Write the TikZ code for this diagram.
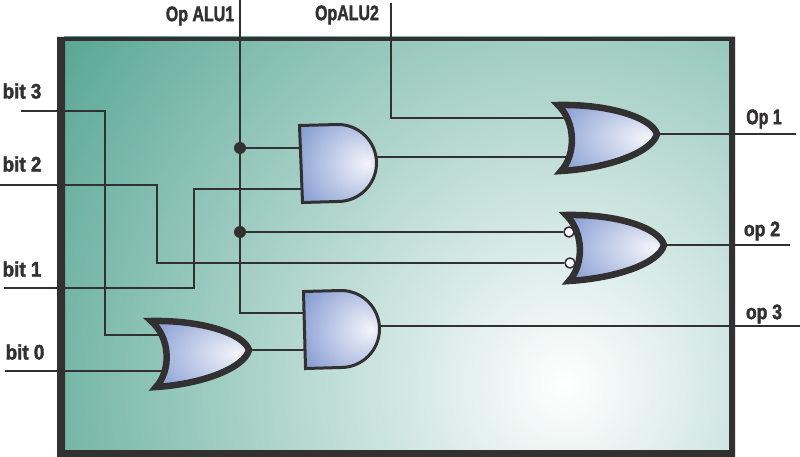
\documentclass[tikz,border=0pt]{standalone}
\usepackage{fontspec}
\setmainfont[BoldFeatures={FakeBold=2}]{Liberation Sans}
\definecolor{ink}{HTML}{323031}
\definecolor{boardfar}{HTML}{58A795}
\definecolor{gateblue}{HTML}{7C95CF}
\definecolor{gatepale}{HTML}{F5F6FB}
\pgfdeclareradialshading{boardglow}{\pgfpointorigin}{color(0bp)=(white); color(25bp)=(boardfar); color(50bp)=(boardfar)}
\pgfdeclareradialshading{gateglow}{\pgfpoint{20bp}{0bp}}{color(0bp)=(gatepale); color(40bp)=(gateblue); color(50bp)=(gateblue)}
\tikzset{
  wire/.style={draw=ink,line width=1.5pt},
  andgate/.style={shading=gateglow,draw=ink,line width=3pt,miter limit=10},
  orgate/.style={shading=gateglow,draw=ink,line width=6.5pt,miter limit=10},
  junction/.style={circle,fill=ink,inner sep=0pt,minimum size=12pt},
  bubble/.style={circle,draw=ink,fill=white,line width=1.5pt,inner sep=0pt,minimum size=10pt},
  pinlabel/.style={text=ink,font=\bfseries\fontsize{21}{21}\selectfont,xscale=.76,inner sep=0pt},
  bitlabel/.style={pinlabel,xscale=1.18},
  oplabel/.style={pinlabel,xscale=1.1},
}
\begin{document}
\begin{tikzpicture}[x=1pt,y=-1pt]
  \useasboundingbox (0,0) rectangle (800,457);
  % board
  \begin{scope}
    \clip (57,37) rectangle (735,457);
    \shade[shading=boardglow] (565,385) circle (610);
  \end{scope}
  \path[fill=ink,even odd rule] (57,37) rectangle (735,457) (65,41) rectangle (729,450);

  % pins
  \coordinate (alu1) at (240,0);
  \coordinate (alu2) at (391,3);
  \coordinate (b3) at (21,111);
  \coordinate (b2) at (0,185);
  \coordinate (b1) at (4,288);
  \coordinate (b0) at (5,371);
  \coordinate (o1) at (796,134);
  \coordinate (o2) at (790,245);
  \coordinate (o3) at (800,326);

  \coordinate (and1a) at (305,148);
  \coordinate (and1b) at (305,189);
  \coordinate (and1y) at (372,157);
  \coordinate (and2a) at (308,313);
  \coordinate (and2b) at (308,350);
  \coordinate (and2y) at (376,326);
  \coordinate (or1a) at (570,118);
  \coordinate (or1b) at (570,157);
  \coordinate (or1y) at (652,134);
  \coordinate (or2y) at (660,245);
  \coordinate (or3a) at (165,335);
  \coordinate (or3b) at (165,371);
  \coordinate (or3y) at (246,350);

  \node[junction] (j1) at (240,148) {};
  \node[junction] (j2) at (240,232) {};
  \node[bubble] (n1) at (569,232) {};
  \node[bubble] (n2) at (570,263) {};

  % wires
  \path[wire] (alu1) |- (and2a);
  \path[wire] (j1) -- (and1a);
  \path[wire] (j2) -- (n1);
  \path[wire] (alu2) |- (or1a);
  \path[wire] (b3) -| (105,335) -- (or3a);
  \path[wire] (b2) -| (157,263) -- (n2);
  \path[wire] (b1) -| (194,189) -- (and1b);
  \path[wire] (b0) -- (or3b);
  \path[wire] (or3y) -- (and2b);
  \path[wire] (and1y) -- (or1b);
  \path[wire] (and2y) -- (o3);
  \path[wire] (or1y) -- (o1);
  \path[wire] (or2y) -- (o2);

  % gates
  \shadedraw[andgate] (299.5,125.5) -- (338,124.5) arc[start angle=-90,end angle=90,radius=38.5] -- (302.5,202.5) -- cycle;
  \shadedraw[andgate] (303.5,291.5) -- (341,290.5) arc[start angle=-90,end angle=90,radius=38.5] -- (305.5,368.5) -- cycle;
  \shadedraw[orgate] (558,105) .. controls (610,104) and (652,118) .. (657,134) .. controls (652,152) and (610,168) .. (561,171) .. controls (576,155) and (576,122) .. cycle;
  \shadedraw[orgate] (566,215) .. controls (618,214) and (659,228) .. (664,245) .. controls (659,263) and (618,278) .. (569,281) .. controls (584,265) and (584,232) .. cycle;
  \shadedraw[orgate] (151,321) .. controls (203,320) and (244,334) .. (249,350) .. controls (244,368) and (203,384) .. (156,387) .. controls (171,371) and (171,338) .. cycle;

  % labels
  \node[pinlabel] (lalu1) at (200,16) {Op ALU1};
  \node[pinlabel] (lalu2) at (347,15) {OpALU2};
  \node[bitlabel] (lb3) at (22,91) {bit 3};
  \node[bitlabel] (lb2) at (22,164) {bit 2};
  \node[bitlabel] (lb1) at (22,269) {bit 1};
  \node[bitlabel] (lb0) at (25,352) {bit 0};
  \node[pinlabel] (lo1) at (764,119) {Op 1};
  \node[oplabel] (lo2) at (762,231) {op 2};
  \node[oplabel] (lo3) at (764,314) {op 3};
\end{tikzpicture}
\end{document}
